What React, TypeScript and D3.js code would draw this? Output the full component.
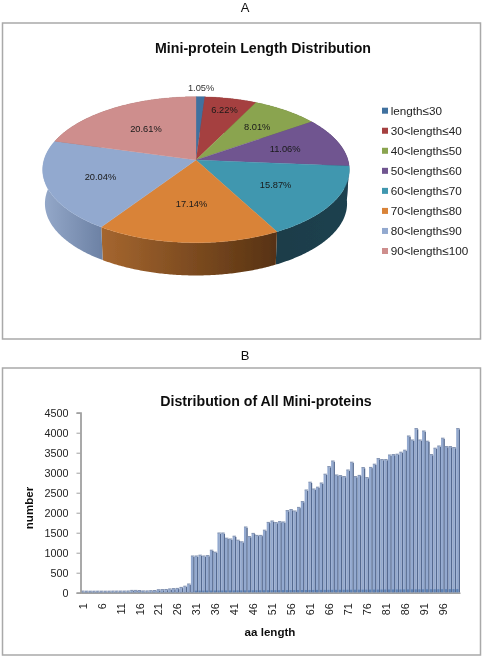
import { useRef, useEffect } from "react";
import * as d3 from "d3";

const pieCategories = [
  "length≤30",
  "30<length≤40",
  "40<length≤50",
  "50<length≤60",
  "60<length≤70",
  "70<length≤80",
  "80<length≤90",
  "90<length≤100",
];
const pieValues = [1.05, 6.22, 8.01, 11.06, 15.87, 17.14, 20.04, 20.61];
const pieColors = ["#41719f", "#a5413f", "#8aa44f", "#6f5590", "#3f97af", "#d98339", "#92a9cf", "#ce8e8d"];

const barValues = [
  38, 36, 35, 35, 36, 36, 35, 36, 38, 38,
  38, 38, 40, 55, 55, 52, 42, 42, 48, 52,
  72, 75, 78, 92, 100, 105, 130, 160, 215, 915,
  915, 935, 915, 925, 1060, 1010, 1490, 1490, 1360, 1340,
  1410, 1310, 1270, 1640, 1400, 1480, 1430, 1430, 1560, 1755,
  1790, 1750, 1775, 1765, 2050, 2075, 2040, 2130, 2275, 2565,
  2760, 2590, 2635, 2740, 2960, 3150, 3290, 2940, 2925, 2900,
  3065, 3260, 2900, 2930, 3125, 2875, 3130, 3210, 3350, 3325,
  3325, 3440, 3450, 3460, 3510, 3560, 3915, 3815, 4100, 3815,
  4040, 3785, 3450, 3610, 3665, 3860, 3650, 3650, 3625, 4100,
];
const yTicks = [0, 500, 1000, 1500, 2000, 2500, 3000, 3500, 4000, 4500];

const FONT = "'Liberation Sans', Arial, sans-serif";

export default function App() {
  const ref = useRef<SVGSVGElement>(null);

  useEffect(() => {
    const root = d3.select(ref.current);
    root.selectAll("*").remove();

    const defs = root.append("defs");
    defs.append("filter").attr("id", "soft").append("feGaussianBlur").attr("stdDeviation", 0.35);

    // the reference is a soft scan, so everything goes through a slight blur
    const svg = root.append("g").attr("filter", "url(#soft)");
    svg.append("rect").attr("width", 483).attr("height", 657).attr("fill", "#fff");

    // panel frames
    [[2.5, 23, 478, 316], [2.5, 368, 478, 287]].forEach(([x, y, w, h]) => {
      svg.append("rect").attr("x", x).attr("y", y).attr("width", w).attr("height", h)
        .attr("fill", "#fff").attr("stroke", "#a9a9a9").attr("stroke-width", 1.5);
    });

    const text = (x: number, y: number, s: string, size: number, weight = "normal", anchor = "middle") =>
      svg.append("text").attr("x", x).attr("y", y).attr("font-family", FONT).attr("font-size", size)
        .attr("font-weight", weight).attr("text-anchor", anchor).attr("fill", "#111").text(s);

    text(245, 12, "A", 13);
    text(245, 360, "B", 13);
    text(263, 52.5, "Mini-protein Length Distribution", 14.2, "bold");
    text(266, 406, "Distribution of All Mini-proteins", 14.2, "bold");

    // ---- pie: perspective projection of a unit circle
    const cx = 196, cy = 160, A = 152, B = 71.7, p = 0.133, depth = 34, shrink = 0.985;
    const project = (theta: number, r: number, k = 1, dy = 0): [number, number] => {
      const u = r * Math.sin(theta);
      const v = -r * Math.cos(theta);
      const d = 1 - p * v;
      return [cx + (k * A * u) / d, cy + dy + (k * B * v) / d];
    };
    const arcs = d3.pie<number>().sort(null)(pieValues);
    const sweep = (a: number, b: number) => d3.range(a, b, 0.01).concat(b);
    const line = d3.line();

    const sideStops = [
      ["#2d4f74", "#2d4f74"],
      ["#6e2b2a", "#6e2b2a"],
      ["#5c6d35", "#5c6d35"],
      ["#4a3960", "#3a2c4c"],
      ["#1a3c49", "#1d414f"],
      ["#a5662f", "#573212"],
      ["#95a9ca", "#6d82a5"],
      ["#8f6261", "#8f6261"],
    ];
    const sides = svg.append("g");
    arcs.forEach((a, i) => {
      const angles = sweep(a.startAngle, a.endAngle);
      const top = angles.map((t) => project(t, 1));
      const bottom = angles.map((t) => project(t, 1, shrink, depth)).reverse();
      const xs = top.map((d) => d[0]);
      const grad = defs.append("linearGradient").attr("id", `side${i}`)
        .attr("gradientUnits", "userSpaceOnUse")
        .attr("x1", d3.min(xs)!).attr("x2", d3.max(xs)!).attr("y1", 0).attr("y2", 0);
      grad.append("stop").attr("offset", 0).attr("stop-color", sideStops[i][0]);
      grad.append("stop").attr("offset", 1).attr("stop-color", sideStops[i][1]);
      sides.append("path").attr("d", line([...top, ...bottom]) + "Z").attr("fill", `url(#side${i})`);
    });

    const tops = svg.append("g");
    arcs.forEach((a, i) => {
      const rim = sweep(a.startAngle, a.endAngle).map((t) => project(t, 1));
      tops.append("path").attr("d", line([project(0, 0), ...rim]) + "Z")
        .attr("fill", pieColors[i]).attr("stroke", pieColors[i]).attr("stroke-width", 0.3);
    });

    // label distance from the apex, as a share of the radius
    const labelRadius = [1.17, 0.8, 0.66, 0.62, 0.6, 0.56, 0.65, 0.58];
    arcs.forEach((a, i) => {
      const [x, y] = project((a.startAngle + a.endAngle) / 2, labelRadius[i]);
      const label = text(x, y + 3.2, `${pieValues[i].toFixed(2)}%`, 9.3);
      label.attr("fill", i === 0 ? "#333" : "#1a1a1a");
    });

    // legend
    const legendY = d3.scalePoint<string>().domain(pieCategories).range([110.7, 251]);
    pieCategories.forEach((c, i) => {
      const y = legendY(c)!;
      svg.append("rect").attr("x", 382).attr("y", y - 3).attr("width", 6).attr("height", 6).attr("fill", pieColors[i]);
      text(390.7, y + 4.2, c, 11.7, "normal", "start").attr("fill", "#222");
    });

    // ---- bars
    const cats = barValues.map((_, i) => i + 1);
    const x = d3.scaleBand<number>().domain(cats).range([81, 460]);
    const y = d3.scaleLinear().domain([0, 4500]).range([592.7, 412.7]);
    const step = x.step();
    const front = step * 0.6;
    const footHeight = (i: number) => (i < 30 ? 0.8 : 1.4 + (i / 99) * 2.2);

    const bars = svg.append("g");
    bars.selectAll("rect.side").data(barValues).join("rect").attr("class", "side")
      .attr("x", (_, i) => x(cats[i])! + front - 0.1)
      .attr("y", (d) => y(d) + 0.6)
      .attr("width", step - front + 0.1)
      .attr("height", (d) => y(0) - y(d) - 0.6)
      .attr("fill", "#556a90");
    bars.selectAll("rect.front").data(barValues).join("rect").attr("class", "front")
      .attr("x", (_, i) => x(cats[i])!)
      .attr("y", (d) => y(d))
      .attr("width", front)
      .attr("height", (d) => y(0) - y(d))
      .attr("fill", "#93a9cf");
    bars.selectAll("rect.cap").data(barValues).join("rect").attr("class", "cap")
      .attr("x", (_, i) => x(cats[i])!)
      .attr("y", (d) => y(d) - 0.6)
      .attr("width", step * 0.9)
      .attr("height", 1)
      .attr("fill", "#7f8fae");
    bars.selectAll("rect.foot").data(barValues).join("rect").attr("class", "foot")
      .attr("x", (_, i) => x(cats[i])!)
      .attr("y", (_, i) => y(0) - footHeight(i))
      .attr("width", front)
      .attr("height", (_, i) => footHeight(i))
      .attr("fill", "#5d82b5");

    // axes
    const yAxis = svg.append("g").attr("transform", "translate(80.5,0)")
      .call(d3.axisLeft(y).tickValues(yTicks).tickFormat(d3.format("d")).tickSize(4).tickPadding(8));
    yAxis.select(".domain").attr("stroke", "#a0a0a0").attr("stroke-width", 1.8);
    yAxis.selectAll(".tick line").attr("stroke", "#a0a0a0").attr("stroke-width", 1);
    yAxis.selectAll("text").attr("font-family", FONT).attr("font-size", 10.8).attr("fill", "#222");

    const xAxis = svg.append("g").attr("transform", "translate(0,592.7)")
      .call(d3.axisBottom(x).tickValues(cats.filter((c) => c % 5 === 1)).tickSize(0));
    xAxis.select(".domain").attr("stroke", "#a0a0a0").attr("stroke-width", 1.4);
    xAxis.selectAll("text").attr("font-family", FONT).attr("font-size", 10.8).attr("fill", "#222")
      .attr("text-anchor", "end").attr("dy", "0.35em").attr("y", 0)
      .attr("transform", "translate(0,10.5) rotate(-90)");

    text(270, 636, "aa length", 11.6, "bold");
    text(0, 0, "number", 11.6, "bold").attr("transform", "translate(33,508) rotate(-90)");
  }, []);

  return (
    <svg
      ref={ref}
      width={483}
      height={657}
      style={{ position: "absolute", left: 0, top: 0, background: "#fff" }}
    />
  );
}
